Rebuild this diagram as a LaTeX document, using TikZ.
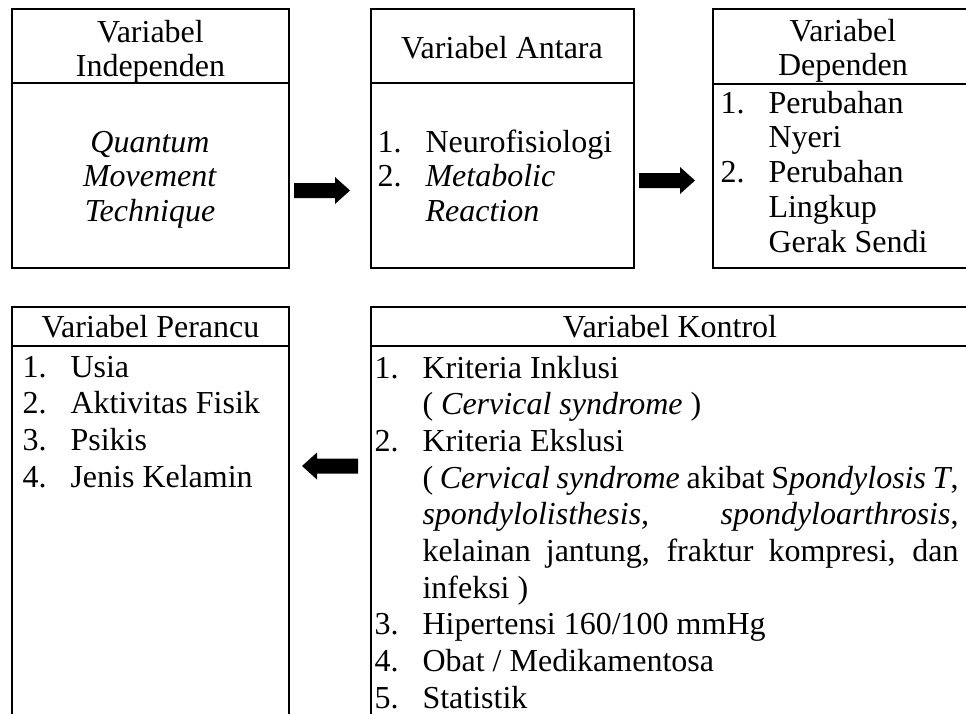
\documentclass[tikz,border=0pt]{standalone}
\usepackage{fontspec}
\setmainfont{Liberation Serif}
\usepackage{tikz}
\usetikzlibrary{calc}
\definecolor{ink}{HTML}{000000}
\newcommand{\itemno}[1]{\makebox[18pt][l]{#1}}
\tikzset{
  boxline/.style={draw=ink,line width=0.9pt},
  hdr/.style={inner sep=0pt,anchor=base,font=\fontsize{12}{12.75}\selectfont},
  txt/.style={inner sep=0pt,anchor=base west,font=\fontsize{12}{13.1}\selectfont},
  txtwide/.style={inner sep=0pt,anchor=base west,font=\fontsize{12}{13.75}\selectfont}
}

\begin{document}
\begin{tikzpicture}[x=0.375pt,y=-0.375pt]
  \useasboundingbox (0,0) rectangle (966,713);
  \clip (0,0) rectangle (966,713);
  \foreach \l/\t/\r/\m/\b in {12/9/289/83/268,371/9/634/83/268,713/9/976/84/268,
                              12/307/289/346/725,371/307/976/346/725}
     {\draw[boxline] (\l,\t) rectangle (\r,\b);
      \draw[boxline] (\l,\m) -- (\r,\m);}
  \foreach \a/\d/\y in {294/1/190.5,639/1/180.5,358/-1/466}
     {\fill[ink] ({\a},{\y-7.5}) -- ++({41*\d},0) -- ++(0,-6) -- ++({15*\d},13.5)
        -- ++({-15*\d},13.5) -- ++(0,-6) -- ++({-41*\d},0) -- cycle;}
  \node[hdr] (indephead) at (150.5,42) {\begin{tabular}[t]{@{}c@{}}Variabel\\Independen\end{tabular}};
  \node[txt,anchor=base] (indepbody) at (150,152)
     {\begin{tabular}[t]{@{}c@{}}\textit{Quantum}\\\textit{Movement}\\\textit{Technique}\end{tabular}};
  \node[hdr] (antarahead) at (502,58) {Variabel Antara};
  \node[txt] (antarabody) at (377,152)
     {\begin{tabular}[t]{@{}l@{}}\itemno{1.}Neurofisiologi\\\itemno{2.}\textit{Metabolic}\\\itemno{}\textit{Reaction}\end{tabular}};
  \node[hdr] (dephead) at (843,41.5) {\begin{tabular}[t]{@{}c@{}}Variabel\\Dependen\end{tabular}};
  \node[txt] (depbody) at (720,113)
     {\begin{tabular}[t]{@{}l@{}}\itemno{1.}Perubahan\\\itemno{}Nyeri\\\itemno{2.}Perubahan\\
      \itemno{}Lingkup\\\itemno{}Gerak Sendi\end{tabular}};
  \node[hdr] (perancuhead) at (150.5,337) {Variabel Perancu};
  \node[txtwide] (perancubody) at (22,377)
     {\begin{tabular}[t]{@{}l@{}}\itemno{1.}Usia\\\itemno{2.}Aktivitas Fisik\\\itemno{3.}Psikis\\
      \itemno{4.}Jenis Kelamin\end{tabular}};
  \node[hdr] (kontrolhead) at (670,337) {Variabel Kontrol};
  \node[txtwide] (kontrolbody) at (374,378)
     {\begin{tabular}[t]{@{}l@{}}\itemno{1.}Kriteria Inklusi\\
      \itemno{}( \textit{Cervical syndrome} )\\
      \itemno{2.}Kriteria Ekslusi\\
      \itemno{}\makebox[201pt][s]{( \textit{Cervical syndrome} akibat S\textit{pondylosis T},}\\
      \itemno{}\makebox[201pt][s]{\textit{spondylolisthesis,} \textit{spondyloarthrosis},}\\
      \itemno{}\makebox[201pt][s]{kelainan jantung, fraktur kompresi, dan}\\
      \itemno{}infeksi )\\
      \itemno{3.}Hipertensi 160/100 mmHg\\
      \itemno{4.}Obat / Medikamentosa\\
      \itemno{5.}Statistik\end{tabular}};
\end{tikzpicture}
\end{document}
